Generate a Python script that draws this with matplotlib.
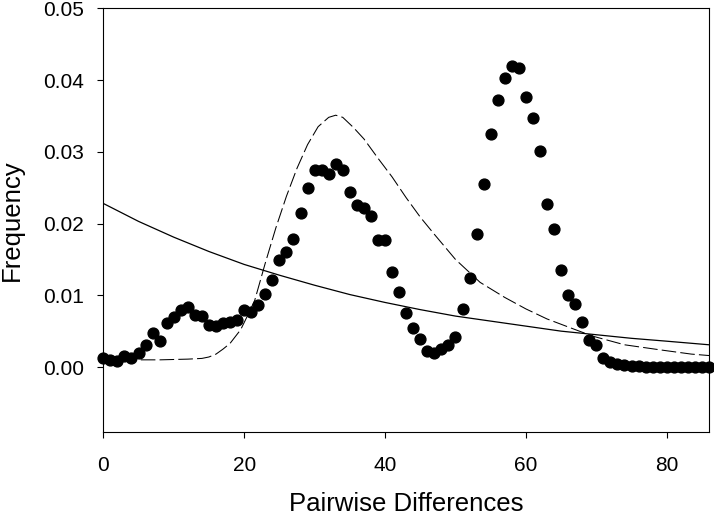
import matplotlib
matplotlib.use("Agg")
import matplotlib.pyplot as plt
import numpy as np

# observed mismatch distribution (pairwise differences 0..86)
obs_x = np.arange(0, 87)
obs_freq = [0.0013, 0.0010, 0.0009, 0.0015, 0.0013, 0.0019, 0.0031, 0.0047, 0.0036, 0.0062,
            0.0070, 0.0079, 0.0084, 0.0073, 0.0071, 0.0059, 0.0057, 0.0061, 0.0063, 0.0066,
            0.0080, 0.0077, 0.0087, 0.0102, 0.0121, 0.0149, 0.0161, 0.0179, 0.0214, 0.0249,
            0.0274, 0.0274, 0.0269, 0.0283, 0.0274, 0.0244, 0.0226, 0.0221, 0.0211, 0.0177,
            0.0177, 0.0133, 0.0104, 0.0075, 0.0054, 0.0039, 0.0023, 0.0020, 0.0025, 0.0031,
            0.0042, 0.0081, 0.0124, 0.0186, 0.0255, 0.0325, 0.0372, 0.0403, 0.0420, 0.0417,
            0.0376, 0.0347, 0.0301, 0.0227, 0.0193, 0.0135, 0.0101, 0.0088, 0.0063, 0.0038,
            0.0030, 0.0013, 0.0007, 0.0004, 0.0003, 0.0002, 0.0001, 0.0, 0.0, 0.0,
            0.0, 0.0, 0.0, 0.0, 0.0, 0.0, 0.0]

# expected curve, constant population size (solid line)
const_x = [0, 5, 10, 15, 20, 25, 30, 35, 40, 45, 50, 55, 60, 65, 70, 75, 80, 86]
const_freq = [0.0228, 0.0203, 0.0181, 0.0161, 0.0143, 0.0128, 0.0114, 0.0101, 0.0090,
              0.0080, 0.0071, 0.0064, 0.0057, 0.0050, 0.0045, 0.0040, 0.0036, 0.0031]

# expected curve, sudden expansion (dashed line)
exp_x = [0, 4, 8, 12, 14, 15, 16, 17, 18, 19.5, 20.5, 21.5, 23, 24.5, 26, 27.5, 29, 30.5,
         32, 33, 34, 35.5, 37, 39, 41, 43, 45, 47, 50, 53.5, 57, 60, 63, 66.5, 69.5, 74,
         79, 83.5, 86]
exp_freq = [0.0010, 0.0010, 0.0010, 0.0011, 0.0012, 0.0014, 0.0018, 0.0025, 0.0033, 0.0052,
            0.0072, 0.0093, 0.0145, 0.0194, 0.0238, 0.0277, 0.0310, 0.0335, 0.0348, 0.0351,
            0.0348, 0.0334, 0.0318, 0.0291, 0.0265, 0.0236, 0.0209, 0.0185, 0.0150, 0.0118,
            0.0097, 0.0081, 0.0067, 0.0054, 0.0043, 0.0031, 0.0024, 0.0018, 0.0016]

plt.rcParams['font.family'] = ['Liberation Sans', 'DejaVu Sans']

fig = plt.figure(figsize=(7.14, 5.16), dpi=100)
ax = fig.add_axes([0.1447, 0.1622, 0.8483, 0.8217])

ax.plot(exp_x, exp_freq, color='black', lw=0.75, dashes=(14, 4))
ax.plot(const_x, const_freq, color='black', lw=0.9)
ax.plot(obs_x, obs_freq, 'o', color='black', markersize=7.8, clip_on=False)

ax.set_xlim(0, 86)
ax.set_ylim(-0.0091, 0.05)
ax.set_xticks([0, 20, 40, 60, 80])
ax.set_yticks([0.0, 0.01, 0.02, 0.03, 0.04, 0.05])
ax.set_yticklabels(['0.00', '0.01', '0.02', '0.03', '0.04', '0.05'])

ax.tick_params(direction='out', length=4, width=0.8, labelsize=15)
ax.tick_params(axis='x', pad=13)
ax.tick_params(axis='y', pad=10)
for s in ax.spines.values():
    s.set_linewidth(0.8)

ax.set_xlabel('Pairwise Differences', fontsize=18.5, labelpad=12)
ax.set_ylabel('Frequency', fontsize=18.5, labelpad=14)

fig.savefig('out.png', dpi=100)
